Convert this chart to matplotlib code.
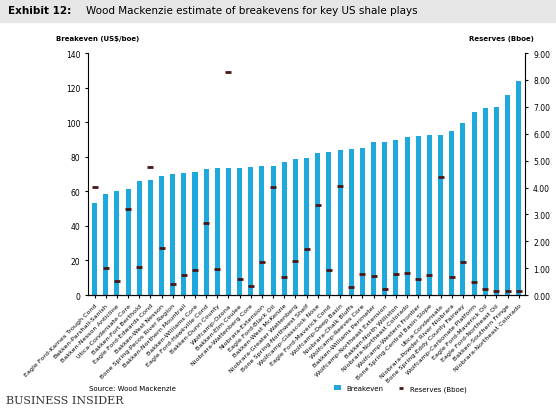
import numpy as np
import matplotlib.pyplot as plt

plays = [
    "Eagle Ford-Karnes Trough Cond", "Bakken-Parshall-Sanish", "Bakken-Nesson Anticline",
    "Utica-Condensate Core", "Bakken-Fort Berthold", "Eagle Ford-Edwards Cond",
    "Bakken-West Nesson", "Bone Spring-Pecos River Region", "Bakken-Northern Mountrail",
    "Bakken-Williams Core", "Eagle Ford-Hawkville Cond", "Bakken-Dunn County",
    "Wolfcamp-Ozona", "Bakken-Elm Coulee", "Niobrara-Wattenberg Core",
    "Niobrara-Extension", "Eagle Ford-Black Oil", "Bakken-West McKenzie",
    "Niobrara-Greater Wattenberg", "Bone Spring-Northwest Shelf", "Wolfcamp-Glasscock Nose",
    "Eagle Ford-Maverick Cond", "Wolfcamp-Deep Basin", "Niobrara-Chalk Bluffs",
    "Wolfcamp-Reeves Core", "Bakken-Williams Perimeter", "Wolfcamp-Northeast Extension",
    "Bakken-North Williston", "Niobrara-Northeast Colorado", "Wolfcamp-Western Frontier",
    "Bone Spring-Central Basin Slope", "Utica-Condensate", "Niobrara-Powder River Niobrara",
    "Bone Spring-Eddy County Fairway", "Wolfcamp-Carbonate Platform", "Eagle Ford-Maverick Oil",
    "Eagle Ford-Northeast Oil", "Bakken-Southern Fringe", "Niobrara-Northeast Colorado",
]
breakeven = [53.5, 58.7, 60, 61.5, 66, 66.7, 69, 70, 70.6, 71, 72.7, 73.5, 73.7, 73.8,
             74, 74.4, 74.4, 76.7, 78.5, 79.4, 82.1, 82.7, 84, 84.6, 85, 88.3, 88.3,
             89.8, 91.3, 92.1, 92.9, 92.9, 95, 99.4, 105.8, 108.3, 109, 116, 123.7]
reserves = [4.03, 0.99, 0.53, 3.19, 1.03, 4.78, 1.74, 0.40, 0.74, 0.93, 2.67, 0.96,
            8.28, 0.58, 0.33, 1.22, 4.01, 0.66, 1.25, 1.70, 3.34, 0.92, 4.06, 0.29,
            0.77, 0.72, 0.21, 0.78, 0.81, 0.61, 0.76, 4.38, 0.68, 1.24, 0.48, 0.21,
            0.16, 0.14, 0.14]

BLUE = "#1fa8dc"
fig = plt.figure(figsize=(5.56, 4.10), dpi=100)
ax = fig.add_axes([0.158, 0.278, 0.787, 0.59])
x = np.arange(len(plays))
ax.bar(x, breakeven, width=0.45, color=BLUE, label="Breakeven")
ax.set_ylim(0, 140)
ax.set_yticks(range(0, 141, 20))
ax.set_xlim(-0.6, len(plays) - 0.4)
ax.set_xticks(x)
ax.set_xticklabels(plays, rotation=45, ha="right", rotation_mode="anchor", fontsize=4.6)
ax.tick_params(axis="y", labelsize=5.5, length=2)
ax.tick_params(axis="x", length=2)
for s in ["top", "right"]:
    ax.spines[s].set_visible(False)

ax2 = ax.twinx()
ax2.scatter(x, reserves, marker="_", s=25, linewidths=2, color="#4a1515", label="Reserves (Bboe)", zorder=3)
ax2.set_ylim(0, 9)
ax2.set_yticks(range(0, 10))
ax2.set_yticklabels([f"{v:.2f}" for v in range(0, 10)])
ax2.tick_params(axis="y", labelsize=5.5, length=2)
ax2.spines["top"].set_visible(False)
ax2.spines["left"].set_visible(False)

# header band
fig.patches.append(plt.Rectangle((0, 0.945), 1, 0.055, transform=fig.transFigure, color="#e6e6e6"))
fig.text(0.015, 0.972, "Exhibit 12:", fontsize=7.5, fontweight="bold", va="center")
fig.text(0.155, 0.972, "Wood Mackenzie estimate of breakevens for key US shale plays", fontsize=7.5, va="center")
fig.text(0.1, 0.905, "Breakeven (US$/boe)", fontsize=5, fontweight="bold", va="center")
fig.text(0.96, 0.905, "Reserves (Bboe)", fontsize=5, fontweight="bold", va="center", ha="right")
fig.text(0.16, 0.05, "Source: Wood Mackenzie", fontsize=5, va="center")
fig.legend(loc="center", bbox_to_anchor=(0.72, 0.05), ncol=2, fontsize=5, frameon=False,
           handlelength=1, markerscale=0.6)
fig.text(0.01, 0.015, "BUSINESS INSIDER", fontsize=8, family="DejaVu Serif", color="#333333")
fig.savefig("out.png", dpi=100)
